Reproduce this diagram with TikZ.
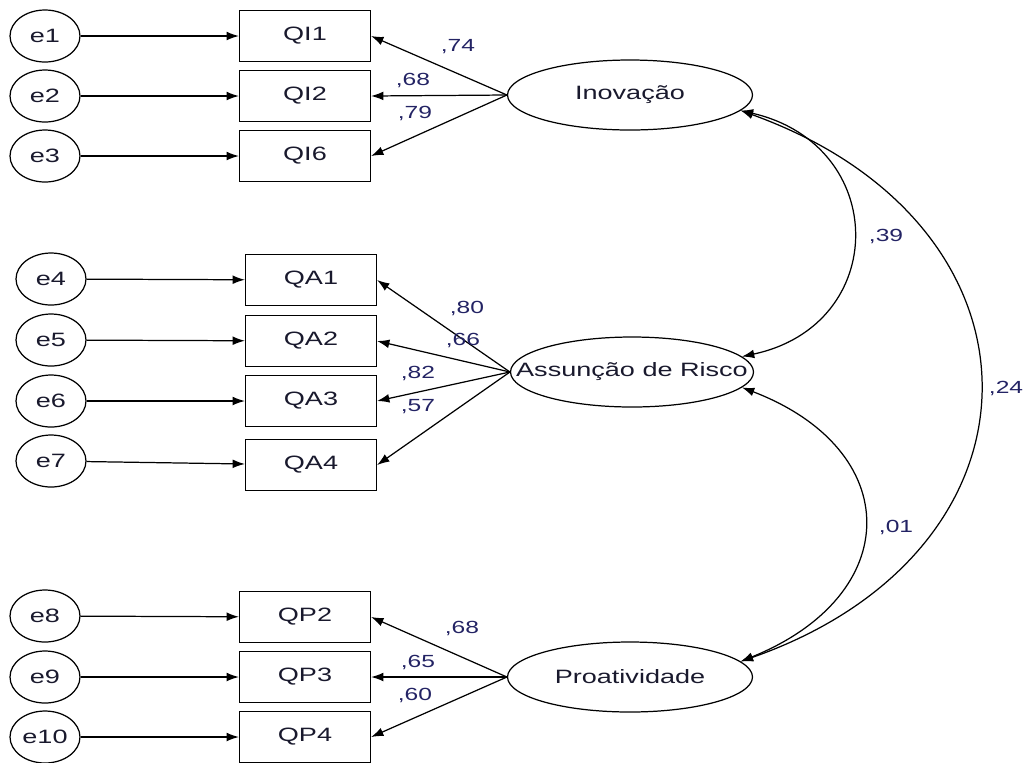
\documentclass[tikz,border=0pt]{standalone}
\usepackage{fontspec}
\setmainfont[FakeStretch=1.4]{Liberation Sans}
\usepackage{tikz}
\usetikzlibrary{arrows.meta,shapes.geometric,positioning}
\tikzset{every picture/.style={line width=0.7pt}}
\definecolor{coefblue}{RGB}{35,35,100}
\definecolor{textdark}{RGB}{25,25,45}

\begin{document}
\begin{tikzpicture}[x=0.02cm, y=-0.02cm,
    obs/.style={draw, rectangle, minimum width=2.62cm, minimum height=1.02cm, inner sep=0pt, text=textdark, font=\fontsize{11}{12}\selectfont},
    err/.style={draw, ellipse, minimum width=1.4cm, minimum height=1.04cm, inner sep=0pt, text=textdark, font=\fontsize{11}{12}\selectfont},
    lat/.style={draw, ellipse, inner sep=0pt, label={[text=textdark, font=\fontsize{11}{12}\selectfont]center:#1}},
    load/.style={-{Latex[length=7pt,width=5pt]}},
    cov/.style={{Latex[length=7pt,width=5pt]}-{Latex[length=7pt,width=5pt]}},
    coef/.style={text=coefblue, font=\fontsize{10}{11}\selectfont, inner sep=0pt}]

    \useasboundingbox (0,0) rectangle (1024,762);

    % Inovação
    \node[err] (e1) at (45,36) {e1};
    \node[err] (e2) at (45,96) {e2};
    \node[err] (e3) at (45,156) {e3};
    \node[obs] (qi1) at (305,36) {QI1};
    \node[obs] (qi2) at (305,96) {QI2};
    \node[obs] (qi6) at (305,156) {QI6};
    \node[lat=Inovação, minimum width=4.9cm, minimum height=1.4cm] (ino) at (630,95) {};

    % Assunção de Risco
    \node[err] (e4) at (51,279) {e4};
    \node[err] (e5) at (51,340) {e5};
    \node[err] (e6) at (51,401) {e6};
    \node[err] (e7) at (51,461) {e7};
    \node[obs] (qa1) at (311,280) {QA1};
    \node[obs] (qa2) at (311,341) {QA2};
    \node[obs] (qa3) at (311,401) {QA3};
    \node[obs] (qa4) at (311,465) {QA4};
    \node[lat=Assunção de Risco, minimum width=4.86cm, minimum height=1.4cm] (risco) at (632,372) {};

    % Proatividade
    \node[err] (e8) at (45,616) {e8};
    \node[err] (e9) at (45,677) {e9};
    \node[err] (e10) at (45,737) {e10};
    \node[obs] (qp2) at (305,617) {QP2};
    \node[obs] (qp3) at (305,677) {QP3};
    \node[obs] (qp4) at (305,737) {QP4};
    \node[lat=Proatividade, minimum width=4.9cm, minimum height=1.4cm] (proa) at (630,677) {};

    % erros -> indicadores
    \foreach \e/\q in {e1/qi1, e2/qi2, e3/qi6, e4/qa1, e5/qa2, e6/qa3, e7/qa4, e8/qp2, e9/qp3, e10/qp4}
        \draw[load] (\e) -- (\q);

    % cargas fatoriais
    \foreach \q in {qi1, qi2, qi6}
        \draw[load] (ino.west) -- (\q.east);
    \foreach \q in {qa1, qa2, qa3, qa4}
        \draw[load] (risco.west) -- (\q.east);
    \foreach \q in {qp2, qp3, qp4}
        \draw[load] (proa.west) -- (\q.east);

    \node[coef] (l74) at (458,47) {,74};
    \node[coef] (l68a) at (413,80) {,68};
    \node[coef] (l79) at (415,113) {,79};
    \node[coef] (l80) at (467,308) {,80};
    \node[coef] (l66) at (463,340) {,66};
    \node[coef] (l82) at (418,373) {,82};
    \node[coef] (l57) at (418,407) {,57};
    \node[coef] (l68b) at (462,628) {,68};
    \node[coef] (l65) at (418,662) {,65};
    \node[coef] (l60) at (415,695) {,60};

    % covariâncias
    \draw[cov] (ino.-8) .. controls (890,145) and (890,325) .. (risco.8);
    \draw[cov] (risco.-8) .. controls (905,450) and (905,595) .. (proa.8);
    \draw[cov] (ino.-8) .. controls (1059,225) and (1059,550) .. (proa.8);

    \node[coef] (l39) at (886,236) {,39};
    \node[coef] (l01) at (896,527) {,01};
    \node[coef] (l24) at (1006,388) {,24};
\end{tikzpicture}
\end{document}
